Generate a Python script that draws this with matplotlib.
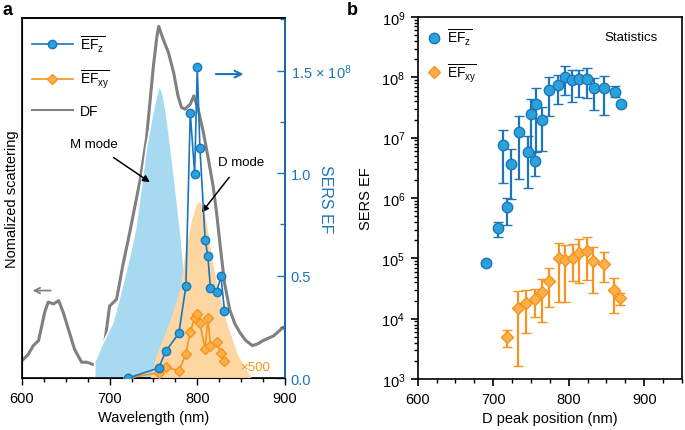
import matplotlib
matplotlib.use('Agg')
import matplotlib.pyplot as plt
import numpy as np
from matplotlib.ticker import MultipleLocator, FixedLocator, FixedFormatter, LogLocator, NullFormatter
from matplotlib.lines import Line2D

plt.rcParams['font.family'] = ['Liberation Sans', 'DejaVu Sans']
plt.rcParams['mathtext.fontset'] = 'custom'
plt.rcParams['mathtext.rm'] = 'Liberation Sans'
plt.rcParams['mathtext.it'] = 'Liberation Sans'
plt.rcParams['mathtext.default'] = 'regular'

# ---- panel a data ----
# dark-field scattering (normalized)
df_wl = [600, 607, 613, 619, 626, 630, 636, 642, 647, 653, 660, 668, 674, 683, 689,
         695, 700, 708, 715, 723, 729, 735, 742, 750, 754, 756, 761, 767, 773, 778,
         782, 786, 792, 796, 801, 807, 812, 818, 822, 826, 831, 837, 843, 849, 855,
         863, 869, 875, 887, 898, 900]
df_val = [0.048, 0.065, 0.09, 0.104, 0.183, 0.211, 0.206, 0.215, 0.183, 0.136, 0.08, 0.044,
          0.044, 0.036, 0.053, 0.108, 0.2, 0.219, 0.312, 0.405, 0.479, 0.553, 0.664, 0.868,
          0.95, 0.977, 0.942, 0.905, 0.849, 0.784, 0.752, 0.747, 0.761, 0.784, 0.747, 0.682,
          0.617, 0.534, 0.46, 0.37, 0.265, 0.19, 0.15, 0.125, 0.105, 0.09, 0.095, 0.104,
          0.117, 0.141, 0.136]

# M mode (blue shade) and D mode (orange shade)
m_wl = [683, 683, 690, 697, 704, 713, 723, 730, 737, 742, 749, 754, 757, 761, 765, 770,
        774.5, 782, 786, 792, 798, 805, 810]
m_val = [0, 0.044, 0.085, 0.12, 0.156, 0.24, 0.339, 0.42, 0.548, 0.64, 0.733, 0.79, 0.814,
         0.79, 0.733, 0.64, 0.547, 0.386, 0.267, 0.15, 0.07, 0.02, 0]
d_wl = [747, 753.6, 769, 781, 786, 793.5, 799, 802.3, 806, 810.6, 816.4, 824, 833.5,
        846.7, 862]
d_val = [0, 0.062, 0.156, 0.247, 0.34, 0.433, 0.479, 0.49, 0.479, 0.433, 0.34, 0.247,
         0.156, 0.062, 0]

# SERS EF (x 1e8)
ef_wl = [721, 756, 764, 779, 787, 792, 797, 800, 803, 809, 812, 815, 822, 827, 831]
efz = [0.0, 0.049, 0.13, 0.219, 0.447, 1.294, 0.997, 1.517, 1.123, 0.673, 0.597, 0.439,
       0.419, 0.496, 0.328]
efxy_500 = [0.0, 0.026, 0.055, 0.033, 0.119, 0.224, 0.294, 0.314, 0.267, 0.141, 0.294,
            0.158, 0.174, 0.122, 0.081]

# ---- panel b data ----
bz_x = [690.5, 705.8, 712.3, 718.9, 724.1, 734.2, 746.4, 750.4, 754.8, 756.9, 764.8, 774.4,
        785.4, 794.6, 804.2, 813.8, 823.9, 833.5, 847, 861, 868.9]
bz_y = [8.4e4, 3.15e5, 7.6e6, 7.0e5, 3.7e6, 1.24e7, 5.9e6, 2.5e7, 4.1e6, 3.6e7, 2.0e7, 6.2e7,
        7.5e7, 1.03e8, 8.9e7, 9.4e7, 9.4e7, 6.6e7, 6.65e7, 5.65e7, 3.6e7]
bz_hi = [9.1e4, 4.05e5, 1.36e7, 9.9e5, 6.5e6, 2.3e7, 1.05e7, 4.4e7, 6.1e6, 6.6e7, 3.2e7, 1.0e8,
         1.09e8, 1.56e8, 1.34e8, 1.34e8, 1.43e8, 9.75e7, 1.07e8, 7.1e7, 3.9e7]
bz_lo = [7.6e4, 2.23e5, 1.8e6, 3.56e5, 9.6e5, 2.07e6, 1.45e6, 5.6e6, 2.3e6, 5.7e6, 6.1e6, 2.3e7,
         3.6e7, 5.15e7, 3.85e7, 4.8e7, 4.55e7, 2.85e7, 2.4e7, 4.65e7, 3.4e7]

bxy_x = [718.9, 732.9, 743.8, 755.2, 764.8, 774.4, 786.7, 795.4, 805.5, 813.8, 823.9, 832.6,
         847, 860.1, 868.4]
bxy_y = [5.0e3, 1.48e4, 1.8e4, 2.12e4, 2.74e4, 4.26e4, 1.0e5, 9.5e4, 1.01e5, 1.22e5, 1.34e5,
         8.9e4, 8.05e4, 3.02e4, 2.17e4]
bxy_hi = [6.5e3, 2.9e4, 3.0e4, 3.1e4, 4.5e4, 7.0e4, 1.8e5, 1.68e5, 1.73e5, 2.09e5, 2.23e5,
          1.52e5, 1.26e5, 4.72e4, 2.63e4]
bxy_lo = [3.43e3, 1.66e3, 5.7e3, 1.05e4, 8.9e3, 1.54e4, 1.87e4, 1.87e4, 4.27e4, 3.9e4, 4.37e4,
          2.63e4, 3.98e4, 1.24e4, 1.68e4]

blue_line = '#1B75BB'
blue_face = '#2AA3DD'
orange_line = '#F7931E'
orange_face = '#FBB04A'
blue_fill = '#A7DAF1'
orange_fill = '#FDD6A2'
gray = '#808080'

fig = plt.figure(figsize=(6.85, 4.31), dpi=100)

# ================= panel a =================
ax1 = fig.add_axes([0.032, 0.1206, 0.384, 0.835])
ax1.plot(df_wl, df_val, color=gray, lw=2.2, zorder=1)
ax1.fill(m_wl, m_val, facecolor=blue_fill, edgecolor='white', lw=1.2, zorder=2)
ax1.fill(d_wl, d_val, facecolor=orange_fill, edgecolor='none', lw=0, zorder=3)
ax1.set_xlim(600, 900)
ax1.set_ylim(0, 1)
ax1.set_yticks([])
ax1.xaxis.set_major_locator(MultipleLocator(100))
ax1.xaxis.set_minor_locator(MultipleLocator(25))
ax1.tick_params(axis='x', which='major', direction='out', length=5, width=1, labelsize=10.5, pad=4)
ax1.tick_params(axis='x', which='minor', direction='out', length=3, width=1)
ax1.set_xlabel('Wavelength (nm)', fontsize=10.5, labelpad=4)
ax1.set_ylabel('Nomalized scattering', fontsize=10.5, labelpad=2)
for s in ax1.spines.values():
    s.set_linewidth(1.2)

ax1.annotate('', xy=(609, 0.243), xytext=(636, 0.243),
             arrowprops=dict(arrowstyle='->', color=gray, lw=1.3))
ax1.annotate('M mode', xy=(746, 0.544), xytext=(682, 0.65), fontsize=9.5, ha='center', va='center',
             arrowprops=dict(arrowstyle='-|>', color='black', lw=1.1, shrinkA=6, shrinkB=0,
                             mutation_scale=10), zorder=6)
ax1.annotate('D mode', xy=(805, 0.46), xytext=(850, 0.60), fontsize=9.5, ha='center', va='center',
             arrowprops=dict(arrowstyle='-|>', color='black', lw=1.1, shrinkA=6, shrinkB=0,
                             mutation_scale=10), zorder=6)
ax1.text(866, 0.032, '×500', color=orange_line, fontsize=9.5, ha='center', va='center')

ax2 = ax1.twinx()
ax2.plot(ef_wl, efxy_500, color=orange_line, lw=1.2, marker='D', ms=5.5, mfc=orange_face,
         mec=orange_line, mew=1.0, zorder=4)
ax2.plot(ef_wl, efz, color=blue_line, lw=1.2, marker='o', ms=6, mfc=blue_face,
         mec=blue_line, mew=1.0, zorder=5)
ax2.set_ylim(0, 1.756)
ax2.set_xlim(600, 900)
ax2.xaxis.set_visible(False)
ax2.yaxis.set_major_locator(FixedLocator([0, 0.5, 1.0, 1.5]))
ax2.yaxis.set_major_formatter(FixedFormatter(['0.0', '0.5', '1.0', r'1.5 × 10$^{8}$']))
ax2.yaxis.set_minor_locator(MultipleLocator(0.25))
ax2.tick_params(axis='y', which='major', direction='in', length=6, width=1, colors=blue_line,
                labelsize=10.5, pad=4)
ax2.tick_params(axis='y', which='minor', direction='in', length=3.5, width=1, colors=blue_line)
ax2.spines['right'].set_color(blue_line)
ax2.spines['right'].set_linewidth(1.2)
ax2.spines['top'].set_linewidth(1.2)
ax2.set_ylabel('SERS EF', color=blue_line, fontsize=11.5, rotation=270, va='center')
ax2.yaxis.set_label_coords(1.155, 0.5)

ax2.annotate('', xy=(856, 1.483), xytext=(818, 1.483),
             arrowprops=dict(arrowstyle='->', color=blue_line, lw=1.5, mutation_scale=12))

hs = [Line2D([], [], color=blue_line, lw=1.2, marker='o', ms=6, mfc=blue_face, mec=blue_line),
      Line2D([], [], color=orange_line, lw=1.2, marker='D', ms=5.5, mfc=orange_face, mec=orange_line),
      Line2D([], [], color=gray, lw=1.5)]
ax2.legend(hs, [r'$\overline{EF_z}$', r'$\overline{EF_{xy}}$', 'DF'], loc='upper left',
           frameon=False, fontsize=10, handlelength=3.0, labelspacing=1.0,
           borderaxespad=0.3, handletextpad=0.5, bbox_to_anchor=(0.0, 0.985))

fig.text(0.003, 0.975, 'a', fontsize=13, fontweight='bold', va='center', ha='left')

# ================= panel b =================
ax3 = fig.add_axes([0.6098, 0.1183, 0.3858, 0.8399])
ax3.errorbar(bz_x, bz_y,
             yerr=[np.array(bz_y) - np.array(bz_lo), np.array(bz_hi) - np.array(bz_y)],
             fmt='o', ms=7.5, mfc=blue_face, mec=blue_line, mew=1.0, ecolor=blue_line,
             elinewidth=1.6, capsize=3.5, capthick=1.6, zorder=4)
ax3.errorbar(bxy_x, bxy_y,
             yerr=[np.array(bxy_y) - np.array(bxy_lo), np.array(bxy_hi) - np.array(bxy_y)],
             fmt='D', ms=6.5, mfc=orange_face, mec=orange_line, mew=1.0, ecolor=orange_line,
             elinewidth=1.6, capsize=3.5, capthick=1.6, zorder=3)
ax3.set_yscale('log')
ax3.set_xlim(600, 950)
ax3.set_ylim(1e3, 1e9)
ax3.xaxis.set_major_locator(FixedLocator([600, 700, 800, 900]))
ax3.xaxis.set_minor_locator(MultipleLocator(25))
ax3.yaxis.set_major_locator(LogLocator(base=10, numticks=10))
ax3.yaxis.set_minor_locator(LogLocator(base=10, subs=np.arange(2, 10), numticks=20))
ax3.yaxis.set_minor_formatter(NullFormatter())
ax3.tick_params(axis='both', which='major', direction='out', length=5, width=1.2, labelsize=10.5, pad=4)
ax3.tick_params(axis='both', which='minor', direction='out', length=3, width=1)
for s in ax3.spines.values():
    s.set_linewidth(1.2)
ax3.set_xlabel('D peak position (nm)', fontsize=10.5, labelpad=4)
ax3.set_ylabel('SERS EF', fontsize=10.5, labelpad=6)
ax3.text(883, 10 ** 8.67, 'Statistics', fontsize=9.5, ha='center', va='center')

hb = [Line2D([], [], ls='none', marker='o', ms=7.5, mfc=blue_face, mec=blue_line),
      Line2D([], [], ls='none', marker='D', ms=6, mfc=orange_face, mec=orange_line)]
ax3.legend(hb, [r'$\overline{EF_z}$', r'$\overline{EF_{xy}}$'], loc='upper left', frameon=False,
           fontsize=10, handlelength=1.0, labelspacing=1.0, handletextpad=0.4,
           borderaxespad=0.3, bbox_to_anchor=(0.0, 1.0))

fig.text(0.507, 0.975, 'b', fontsize=13, fontweight='bold', va='center', ha='left')

fig.savefig('out.png', dpi=100)
